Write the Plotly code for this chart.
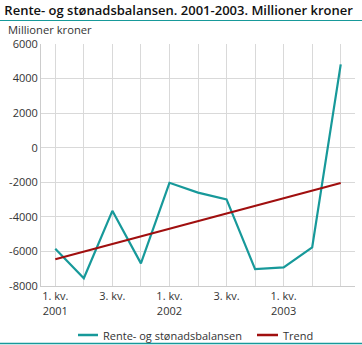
import plotly.graph_objects as go

quarters = list(range(11))
tick_text = ["1. kv.<br>2001", "", "3. kv.", "", "1. kv.<br>2002", "", "3. kv.", "", "1. kv.<br>2003", "", ""]
balance = [-5850, -7550, -3650, -6690, -2030, -2600, -2990, -7020, -6920, -5770, 4820]
trend_x = [0, 10]
trend_y = [-6450, -2040]
series_names = ["Rente- og stønadsbalansen", "Trend"]

teal = "#17999a"
red = "#a00f0f"
font = "Open Sans"

fig = go.Figure()
fig.add_trace(go.Scatter(x=quarters, y=balance, mode="lines", name=series_names[0],
                         line=dict(color=teal, width=2.2), showlegend=False))
fig.add_trace(go.Scatter(x=trend_x, y=trend_y, mode="lines", name=series_names[1],
                         line=dict(color=red, width=2.2), showlegend=False))

W, H = 362, 345
L, R, T, B = 41, 7, 44, 59
ph = H - T - B
pw = W - L - R

def py(pix):
    return (H - B - pix) / ph

def px(pix):
    return (pix - L) / pw

legend_y = 335
legend_items = [(78, 98, 101, teal), (257, 278, 281, red)]

shapes = [
    dict(type="line", xref="paper", yref="paper", x0=px(0), x1=px(W), y0=py(20.5), y1=py(20.5),
         line=dict(color=teal, width=1.2)),
    dict(type="line", xref="paper", yref="paper", x0=px(0), x1=px(W), y0=py(343.5), y1=py(343.5),
         line=dict(color=teal, width=1.5)),
]
annotations = [dict(text="Millioner kroner", xref="paper", yref="paper", x=px(6), y=py(29),
                    xanchor="left", yanchor="middle", showarrow=False,
                    font=dict(family=font, size=11.2, color="#333333"))]
for (x0, x1, xt, col), name in zip(legend_items, series_names):
    shapes.append(dict(type="line", xref="paper", yref="paper", x0=px(x0), x1=px(x1),
                       y0=py(legend_y), y1=py(legend_y), line=dict(color=col, width=2.5)))
    annotations.append(dict(text=name, xref="paper", yref="paper", x=px(xt), y=py(legend_y),
                            xanchor="left", yanchor="middle", showarrow=False,
                            font=dict(family=font, size=11, color="#333333")))

fig.update_layout(
    width=W, height=H,
    margin=dict(l=L, r=R, t=T, b=B),
    paper_bgcolor="white", plot_bgcolor="white",
    font=dict(family=font, size=11, color="#333333"),
    title=dict(text="Rente- og stønadsbalansen. 2001-2003. Millioner kroner",
               x=0.012, xanchor="left", yref="container", y=1 - 10 / H, yanchor="middle",
               font=dict(family=font, size=13, color="#111111", weight=600)),
    showlegend=False,
    xaxis=dict(range=[-0.5, 10.5], tickmode="array", tickvals=quarters, ticktext=tick_text,
               showgrid=True, gridcolor="#d9d9d9", gridwidth=1, zeroline=False,
               showline=True, linecolor="#cccccc", ticks="", tickfont=dict(size=11, color="#333333"),
               fixedrange=True, automargin=False),
    yaxis=dict(range=[-8000, 6000], tickvals=[-8000, -6000, -4000, -2000, 0, 2000, 4000, 6000],
               ticktext=["-8000", "-6000", "-4000", "-2000", "0", "2000", "4000", "6000"],
               showgrid=True, gridcolor="#d9d9d9", gridwidth=1, zeroline=False,
               showline=True, linecolor="#cccccc", ticks="", tickfont=dict(size=11, color="#333333"),
               fixedrange=True, automargin=False),
    annotations=annotations,
    shapes=shapes,
)

fig.write_html("out.html")
